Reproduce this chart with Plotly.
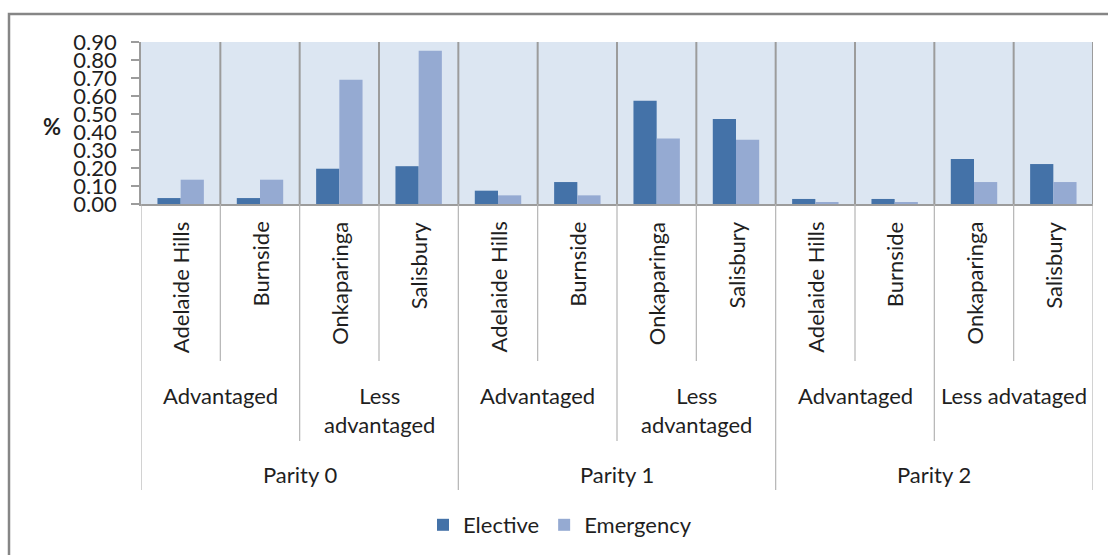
import plotly.graph_objects as go

# --- data -------------------------------------------------------------
councils = ["Adelaide Hills", "Burnside", "Onkaparinga", "Salisbury"] * 3
area_groups = ["Advantaged", "Less<br>advantaged",
               "Advantaged", "Less<br>advantaged",
               "Advantaged", "Less advataged"]
parities = ["Parity 0", "Parity 1", "Parity 2"]

elective = [0.033, 0.033, 0.196, 0.210,
            0.074, 0.122, 0.574, 0.472,
            0.028, 0.028, 0.250, 0.222]
emergency = [0.135, 0.135, 0.690, 0.852,
             0.048, 0.048, 0.364, 0.357,
             0.007, 0.007, 0.122, 0.122]

# --- layout geometry (pixels of the 1108x555 page) --------------------
W, H = 1108, 555
PL, PR, PT, PB = 141, 1093, 42, 204          # plot area edges


def py(p):
    """page pixel row -> paper y"""
    return (PB - p) / (PB - PT)


def px(p):
    """page pixel column -> paper x"""
    return (p - PL) / (PR - PL)


FONT = "Lato, 'Open Sans', sans-serif"
TXT = "#1f1f1f"
GRID = "#9c9c9c"
SUB = "#b4b4b4"

xs = list(range(len(councils)))

fig = go.Figure()
fig.add_trace(go.Bar(x=xs, y=elective, name="Elective",
                     marker=dict(color="#4472a8", line=dict(width=0))))
fig.add_trace(go.Bar(x=xs, y=emergency, name="Emergency",
                     marker=dict(color="#95aad2", line=dict(width=0))))

shapes = []
n = len(councils)
# vertical separators inside the plot area
for i in range(n):
    shapes.append(dict(type="line", xref="x", yref="paper",
                       x0=i + 0.5, x1=i + 0.5, y0=0, y1=1,
                       line=dict(color=GRID, width=2), layer="above"))
# separators running down through the label rows
for i in range(n + 1):
    b = i - 0.5
    if i % 4 == 0:
        bottom = 490
    elif i % 2 == 0:
        bottom = 441
    else:
        bottom = 361
    shapes.append(dict(type="line", xref="x", yref="paper",
                       x0=b, x1=b, y0=0, y1=py(bottom),
                       line=dict(color=SUB, width=1.2)))
# frame around the whole chart
shapes.append(dict(type="rect", xref="paper", yref="paper",
                   x0=px(9), x1=px(1140), y0=py(14), y1=py(600),
                   line=dict(color="#868686", width=2.5),
                   fillcolor="rgba(0,0,0,0)"))

annotations = []
for i, name in enumerate(councils):
    annotations.append(dict(x=i, y=py(220), xref="x", yref="paper",
                            text=name, textangle=-90, showarrow=False,
                            xanchor="center", yanchor="top",
                            font=dict(family=FONT, size=22, color=TXT)))
for k, g in enumerate(area_groups):
    annotations.append(dict(x=2 * k + 0.5, y=py(380), xref="x", yref="paper",
                            text=g, showarrow=False,
                            xanchor="center", yanchor="top",
                            font=dict(family=FONT, size=22, color=TXT)))
for k, p in enumerate(parities):
    annotations.append(dict(x=4 * k + 1.5, y=py(474), xref="x", yref="paper",
                            text=p, showarrow=False,
                            xanchor="center", yanchor="middle",
                            font=dict(family=FONT, size=22, color=TXT)))
annotations.append(dict(x=px(52), y=py(126), xref="paper", yref="paper",
                        text="<b>%</b>", showarrow=False,
                        xanchor="center", yanchor="middle",
                        font=dict(family=FONT, size=22, color=TXT)))

fig.update_layout(
    width=W, height=H,
    margin=dict(l=PL, r=W - PR, t=PT, b=H - PB, autoexpand=False),
    paper_bgcolor="white", plot_bgcolor="#dce6f2",
    barmode="group", bargap=0.415, bargroupgap=0,
    showlegend=True,
    legend=dict(orientation="h", x=px(560), y=py(525),
                xanchor="center", yanchor="middle",
                font=dict(family=FONT, size=22, color=TXT),
                itemwidth=30, bgcolor="rgba(0,0,0,0)"),
    xaxis=dict(range=[-0.5, n - 0.5], showticklabels=False, ticks="",
               showgrid=False, zeroline=False, fixedrange=True,
               showline=True, linecolor=GRID, linewidth=2),
    yaxis=dict(range=[0, 0.9], tickvals=[i / 10 for i in range(10)],
               tickformat=".2f", showgrid=False, zeroline=False,
               showline=True, linecolor=GRID, linewidth=1.5,
               ticks="outside", ticklen=8, tickcolor=GRID, tickwidth=1.5,
               tickfont=dict(family=FONT, size=22, color=TXT),
               ticklabelstandoff=10, fixedrange=True),
    shapes=shapes, annotations=annotations,
)

fig.write_html("out.html")
